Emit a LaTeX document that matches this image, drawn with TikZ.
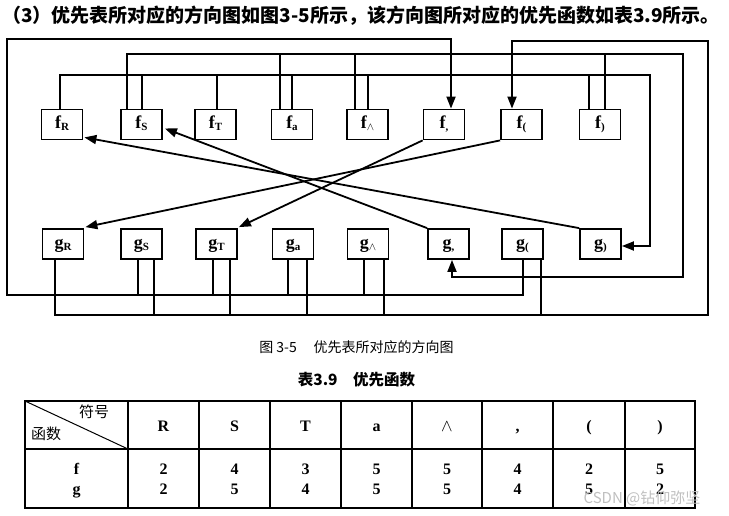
\documentclass[tikz,border=0pt]{standalone}
\usepackage{fontspec}
\setmainfont{Liberation Serif}
\newfontfamily\cjk{Noto Sans CJK SC}
\usetikzlibrary{arrows.meta,calc}
\newcommand\lsub[1]{\raisebox{-2.5pt}{\fontsize{11}{11}\selectfont #1}}
\begin{document}
\begin{tikzpicture}[x=1pt,y=-1pt,
  wire/.style={line width=1.8pt},
  arr/.style={line width=1.8pt,-{Triangle[length=12pt,width=9pt]}},
  fg/.style={draw,line width=1.8pt,minimum width=41pt,minimum height=30pt,inner sep=0pt,text height=12pt,text depth=4pt,font=\fontsize{18}{18}\selectfont\bfseries},
  tline/.style={line width=1.3pt},
  tcell/.style={anchor=base,inner sep=0pt,font=\fontsize{16}{16}\selectfont\bfseries},
  cjkl/.style={inner sep=0pt,font=\cjk\fontsize{15}{15}\selectfont},
]
\useasboundingbox (0,0) rectangle (729,516);

% title
\node[anchor=west,inner sep=0pt,font=\cjk\fontsize{19}{19}\selectfont\bfseries] (title) at (2,16)
  {（3）优先表所对应的方向图如图3-5所示，该方向图所对应的优先函数如表3.9所示。};

% f row
\node[fg] (fR) at (62,124.5) {f\lsub{R}};
\node[fg] (fS) at (141.5,124.5) {f\lsub{S}};
\node[fg] (fT) at (215.5,124.5) {f\lsub{T}};
\node[fg] (fa) at (292,124.5) {f\lsub{a}};
\node[fg] (fw) at (367.5,124.5) {f\lsub{$\wedge$}};
\node[fg] (fC) at (444,124.5) {f\lsub{,}};
\node[fg] (fP) at (521.5,124.5) {f\lsub{(}};
\node[fg] (fQ) at (600,124.5) {f\lsub{)}};
% g row
\node[fg] (gR) at (63,244) {g\lsub{R}};
\node[fg] (gS) at (141.5,244) {g\lsub{S}};
\node[fg] (gT) at (216.5,244) {g\lsub{T}};
\node[fg] (ga) at (293,244) {g\lsub{a}};
\node[fg] (gw) at (368,244) {g\lsub{$\wedge$}};
\node[fg] (gC) at (448.5,244) {g\lsub{,}};
\node[fg] (gP) at (522.5,244) {g\lsub{(}};
\node[fg] (gQ) at (600.5,244) {g\lsub{)}};

\coordinate (A1) at (7,295);
\coordinate (B1) at (683,54);
\coordinate (C1) at (650,75);
\coordinate (D1) at (708,315);

% wire A -> f,
\draw[arr] ([xshift=0.5pt]gP.south) |- (A1) -- (7,39) -| ([xshift=7pt]fC.north);
\foreach \n/\s in {gS/-3.5,gT/-3.5,ga/-5,gw/-4}
  \draw[wire] ([xshift=\s pt]\n.south) |- (A1);

% wire B -> g,
\draw[arr] ([xshift=-14.5pt]fS.north) |- (B1) -- (683,277) -| ([xshift=3.5pt]gC.south);
\foreach \n/\s in {fa/-12,fw/-12.5,fQ/5}
  \draw[wire] ([xshift=\s pt]\n.north) |- (B1);

% wire C -> g)
\draw[arr] ([xshift=-2pt]fR.north) |- (C1) |- ([yshift=-2pt]gQ.east);
\foreach \n/\s in {fS/0.5,fT/1.5,fa/0,fw/0.5,fQ/-11}
  \draw[wire] ([xshift=\s pt]\n.north) |- (C1);

% wire D -> f(
\draw[arr] ([xshift=-8pt]gR.south) |- (D1) -- (708,41) -| ([xshift=-9.5pt]fP.north);
\foreach \n/\s in {gS/12.5,gT/13.5,ga/14,gw/16,gP/18.5}
  \draw[wire] ([xshift=\s pt]\n.south) |- (D1);

% diagonals
\draw[arr] (gQ.north west) -- ($(fR.south east)+(1,-3)$);
\draw[arr] (gC.north west) -- ($(fS.east)+(2,4)$);
\draw[arr] (fC.south west) -- ($(gT.north east)+(1,-1)$);
\draw[arr] (fP.south west) -- ($(gR.north east)+(1,-1)$);

% captions
\node[inner sep=0pt,font=\cjk\fontsize{14}{14}\selectfont] (cap1) at (356.5,347) {图 3-5\hspace{1.2em}优先表所对应的方向图};
\node[inner sep=0pt,font=\cjk\fontsize{15.5}{15.5}\selectfont\bfseries] (cap2) at (356.5,380) {表3.9\hspace{1em}优先函数};

% table
\draw[tline] (25,401) rectangle (695,508);
\draw[tline] (25,449) -- (695,449);
\foreach \x in {128,199,270,341,412,482,553,625}
  \draw[tline] (\x,401) -- (\x,508);
\draw[line width=1pt] (25,401) -- (128,449);
\node[cjkl] (hs) at (94,412) {符号};
\node[cjkl] (hf) at (46,434) {函数};
\foreach \x/\t/\a/\b [count=\i] in {163.5/R/2/2, 234.5/S/4/5, 305.5/T/3/4, 376.5/a/5/5, 447/$\wedge$/5/5, 517.5/{,}/4/4, 589/(/2/5, 660/)/5/2}{
  \node[tcell] (h\i) at (\x,431) {\t};
  \node[tcell] (vf\i) at (\x,474) {\a};
  \node[tcell] (vg\i) at (\x,494) {\b};
}
\node[tcell] (lf) at (76.5,474) {f};
\node[tcell] (lg) at (76.5,494) {g};

% watermark
\node[inner sep=0pt,text=gray!50,font=\cjk\fontsize{15}{15}\selectfont] (wm) at (642,498) {CSDN @钻仰弥坚};
\end{tikzpicture}
\end{document}
